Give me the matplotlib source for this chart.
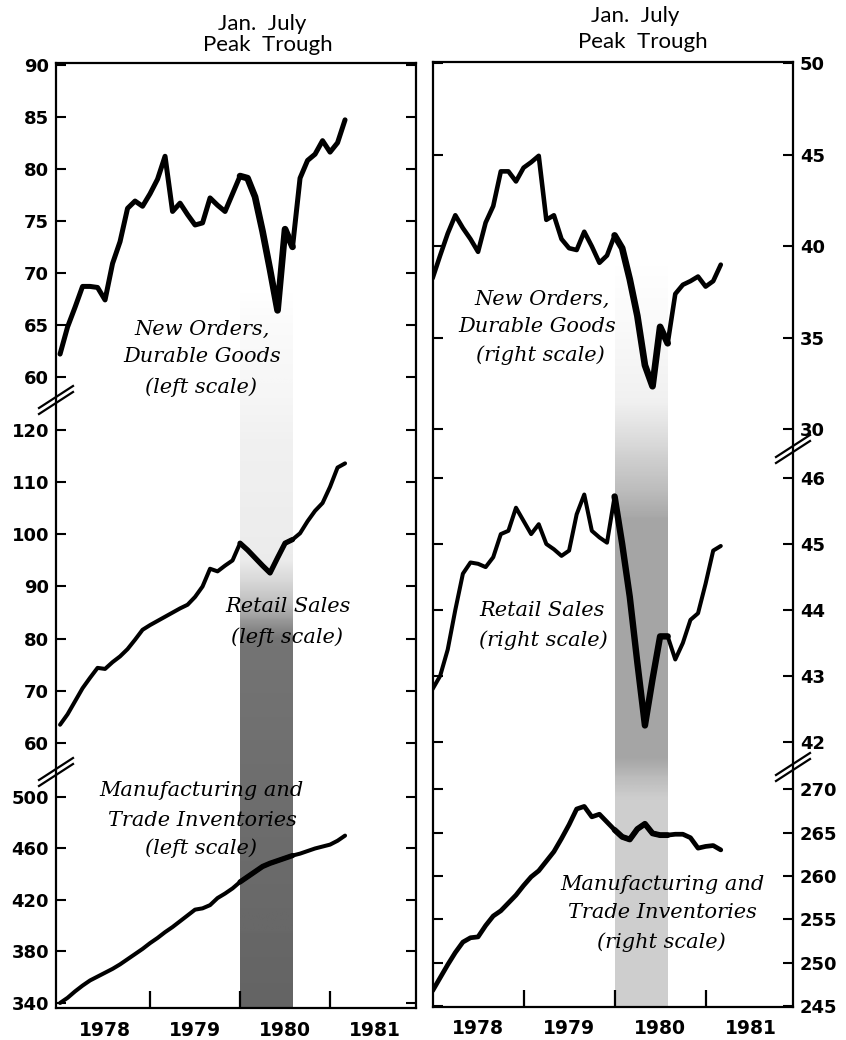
import numpy as np
import matplotlib
matplotlib.use("Agg")
import matplotlib.pyplot as plt
from matplotlib.lines import Line2D

# monthly values, Jan 1978 .. Mar 1981
orders_left = [62.2, 64.8, 66.7, 68.7, 68.7, 68.6, 67.4, 70.9, 73.0, 76.2,
               76.9, 76.4, 77.6, 79.0, 81.2, 75.9, 76.7, 75.6, 74.6, 74.8,
               77.2, 76.5, 75.9, 77.6, 79.3, 79.1, 77.3, 74.0, 70.3, 66.4,
               74.2, 72.5, 79.1, 80.8, 81.4, 82.7, 81.6, 82.5, 84.7]
retail_left = [63.5, 65.5, 68.0, 70.5, 72.5, 74.4, 74.2, 75.5, 76.6, 78.0,
               79.8, 81.7, 82.6, 83.4, 84.2, 85.0, 85.8, 86.5, 88.0, 90.0,
               93.4, 92.9, 94.0, 95.0, 98.3, 97.0, 95.5, 94.0, 92.6, 95.5,
               98.3, 99.0, 100.2, 102.5, 104.5, 106.0, 109.1, 112.8, 113.6]
inventory_left = [340, 344, 349, 353.5, 357.5, 360.5, 363.5, 366.5, 370, 374,
                  378, 382, 386.5, 390.5, 395, 399, 403.5, 408, 412.5, 413.5,
                  416, 421.5, 425, 429, 434, 438, 442, 446, 448.5, 450.5,
                  452.5, 454.5, 456, 458, 460, 461.5, 463, 466, 470]
orders_right = [38.25, 39.5, 40.7, 41.7, 41.0, 40.4, 39.7, 41.3, 42.2, 44.1,
                44.1, 43.55, 44.3, 44.6, 44.95, 41.45, 41.7, 40.4, 39.9, 39.8,
                40.8, 40.0, 39.1, 39.5, 40.6, 39.9, 38.2, 36.2, 33.5, 32.35,
                35.6, 34.7, 37.4, 37.9, 38.1, 38.35, 37.8, 38.1, 39.0]
retail_right = [42.8, 43.0, 43.4, 44.0, 44.55, 44.72, 44.7, 44.65, 44.8, 45.15,
                45.2, 45.55, 45.35, 45.15, 45.3, 45.0, 44.92, 44.82, 44.9, 45.45,
                45.75, 45.2, 45.1, 45.02, 45.72, 45.0, 44.2, 43.2, 42.25, 42.95,
                43.6, 43.6, 43.25, 43.5, 43.85, 43.95, 44.4, 44.9, 44.97]
inventory_right = [246.8, 248.3, 249.8, 251.2, 252.4, 252.9, 253.0, 254.3, 255.4, 256.0,
                   256.9, 257.8, 258.9, 259.9, 260.6, 261.7, 262.8, 264.3, 265.9, 267.7,
                   268.0, 266.8, 267.1, 266.2, 265.3, 264.5, 264.2, 265.4, 266.0, 264.9,
                   264.7, 264.7, 264.8, 264.8, 264.4, 263.2, 263.4, 263.5, 263.0]

year_labels = ["1978", "1979", "1980", "1981"]
recession = (1980.0, 1980.58)   # January peak .. July trough

months = 1978 + np.arange(len(orders_left)) / 12.0

W, H = 846, 1040
fig = plt.figure(figsize=(W / 100, H / 100), dpi=100)


def box(left, top, right, bottom):
    return [left / W, 1 - bottom / H, (right - left) / W, (bottom - top) / H]


TICK_FONT = dict(family="DejaVu Sans", weight="bold", size=13)


def make_frame(edges, xlim, stops):
    ax = fig.add_axes(box(*edges))
    ax.set_xlim(xlim)
    ax.set_ylim(0, 1)
    ax.set_yticks([])
    for s in ax.spines.values():
        s.set_linewidth(1.6)
    # stippled recession band, approximated by a vertical grey ramp
    pos, dark = zip(*stops)
    ramp = np.interp(np.linspace(0, 1, 400), pos, dark)[:, None]
    ax.imshow(ramp, extent=(recession[0], recession[1], 0, 1), aspect="auto",
              cmap="Greys", vmin=0, vmax=1, origin="upper",
              interpolation="bilinear", zorder=0)
    ax.set_xlim(xlim)
    ax.set_ylim(0, 1)
    ax.set_xticks([1979, 1980, 1981])
    ax.set_xticklabels([])
    ax.set_xticks([1978.5, 1979.5, 1980.5, 1981.5], minor=True)
    ax.set_xticklabels(year_labels, minor=True, family="DejaVu Sans", weight="bold", size=13.5)
    ax.tick_params(which="major", axis="x", direction="in", length=12, width=1.6)
    ax.tick_params(which="minor", axis="x", length=0, pad=9)
    return ax


def make_section(left, right, top, bottom, xlim, ylim, ticks, values, side, lw, lw_rec):
    ax = fig.add_axes(box(left, top, right, bottom))
    ax.patch.set_alpha(0)
    for s in ax.spines.values():
        s.set_visible(False)
    ax.set_xlim(xlim)
    ax.set_ylim(ylim)
    ax.set_xticks([])
    ax.set_yticks(ticks)
    ax.tick_params(axis="y", direction="in", length=7, width=1.5,
                   left=True, right=True,
                   labelleft=(side == "left"), labelright=(side == "right"), pad=5)
    for lab in ax.get_yticklabels():
        lab.set(**TICK_FONT)
    vals = np.asarray(values, dtype=float)
    ax.plot(months, vals, color="black", lw=lw,
            solid_joinstyle="round", solid_capstyle="round")
    rec = (months >= 1979.95) & (months <= 1980.62)
    ax.plot(months[rec], vals[rec], color="black", lw=lw_rec,
            solid_joinstyle="round", solid_capstyle="round")
    return ax


def break_mark(cx, cy):
    for off in (-3, 3):
        xs = [(cx - 17) / W, (cx + 17) / W]
        ys = [1 - (cy + 11 + off) / H, 1 - (cy - 11 + off) / H]
        fig.add_artist(Line2D(xs, ys, color="black", lw=1.6,
                              transform=fig.transFigure))


# ---- left panel ----
xl = (1977.955, 1981.955)
make_frame((56, 63, 416, 1008), xl,
           [(0, 0), (0.24, 0), (0.28, 0.04), (0.357, 0.08), (0.40, 0.12),
            (0.526, 0.15), (0.568, 0.35), (0.61, 0.62), (1.0, 0.68)])
make_section(56, 416, 63, 400, xl, (57.79, 90.16), [60, 65, 70, 75, 80, 85, 90],
             orders_left, "left", 3.6, 4.8)
make_section(56, 416, 400, 772, xl, (54.44, 125.75), [60, 70, 80, 90, 100, 110, 120],
             retail_left, "left", 2.9, 3.8)
make_section(56, 416, 772, 1008, xl, (336.1, 519.4), [340, 380, 420, 460, 500],
             inventory_left, "left", 2.9, 3.8)
break_mark(56, 400)
break_mark(56, 772)

# ---- right panel ----
xr = (1978.005, 1981.96)
make_frame((433, 62, 793, 1007), xr,
           [(0, 0), (0.21, 0), (0.284, 0.05), (0.358, 0.12), (0.421, 0.3),
            (0.484, 0.45), (0.738, 0.45), (0.78, 0.3), (1.0, 0.3)])
make_section(433, 793, 62, 449, xr, (28.92, 50.08), [30, 35, 40, 45, 50],
             orders_right, "right", 3.3, 4.8)
make_section(433, 793, 449, 767, xr, (41.62, 46.44), [42, 43, 44, 45, 46],
             retail_right, "right", 2.9, 4.6)
make_section(433, 793, 767, 1007, xr, (244.94, 272.53), [245, 250, 255, 260, 265, 270],
             inventory_right, "right", 3.4, 4.2)
break_mark(793, 449)
break_mark(793, 767)

# ---- headers ----
HEAD = dict(family="Lato", size=16, ha="center", va="center")
fig.text(262 / W, 1 - 24 / H, "Jan.  July", **HEAD)
fig.text(268 / W, 1 - 45 / H, "Peak  Trough", **HEAD)
fig.text(635 / W, 1 - 16 / H, "Jan.  July", **HEAD)
fig.text(643 / W, 1 - 42 / H, "Peak  Trough", **HEAD)

# ---- series labels ----
LAB = dict(family="DejaVu Serif", style="italic", size=15, ha="center", va="center")
labels = [
    ("New Orders,", 202, 329), ("Durable Goods", 202, 357), ("(left scale)", 201, 387),
    ("Retail Sales", 288, 607), ("(left scale)", 287, 637),
    ("Manufacturing and", 201, 791), ("Trade Inventories", 202, 820), ("(left scale)", 201, 848),
    ("New Orders,", 542, 299), ("Durable Goods", 537, 327), ("(right scale)", 540, 355),
    ("Retail Sales", 542, 611), ("(right scale)", 543, 640),
    ("Manufacturing and", 662, 884), ("Trade Inventories", 662, 913), ("(right scale)", 661, 942),
]
for text, x, y in labels:
    fig.text(x / W, 1 - y / H, text, **LAB)

fig.savefig("out.png", dpi=100)
